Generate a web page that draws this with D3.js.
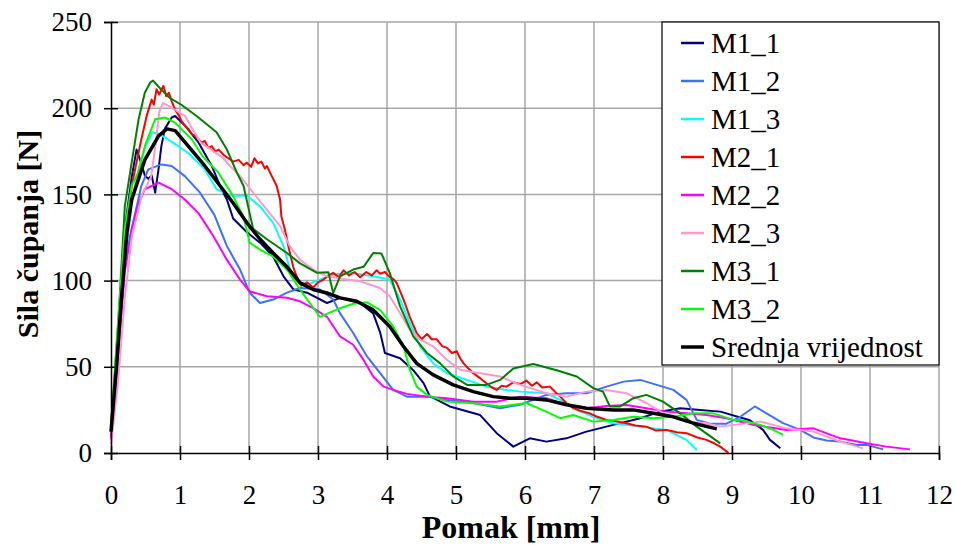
<!DOCTYPE html>
<html><head><meta charset="utf-8">
<script src="https://cdn.jsdelivr.net/npm/d3@7"></script>
<style>body{margin:0;background:#fff}svg{display:block}</style>
</head><body><svg id="c" width="955" height="545"></svg>
<script>
const xTicks=[0,1,2,3,4,5,6,7,8,9,10,11,12];
const yTicks=[0,50,100,150,200,250];
const seriesNames=["M1_1","M1_2","M1_3","M2_1","M2_2","M2_3","M3_1","M3_2","Srednja vrijednost"];
const seriesColors=["#000080","#3f6fff","#00ffff","#ff0000","#ff00ff","#ff99cc","#008000","#00ff00","#000000"];

const M1_1=[[0,12],[0.1,70],[0.2,130],[0.3,160],[0.37,176],[0.44,168],[0.49,161],[0.54,159],[0.59,161],[0.64,151],[0.69,165],[0.73,178],[0.78,188],[0.88,194.6],[0.93,195.5],[1.07,190],[1.27,180],[1.46,166.5],[1.6,153],[1.68,147],[1.77,136],[1.97,128],[2.16,122],[2.35,114],[2.5,102.5],[2.64,95],[2.84,93],[3.13,87],[3.32,90],[3.61,87],[3.8,81],[3.9,70],[3.97,58],[4.19,55],[4.38,48],[4.53,40.5],[4.62,33],[4.91,27],[5.35,22],[5.59,11.5],[5.83,3.7],[6.07,8.5],[6.31,6.6],[6.6,8.5],[6.89,12.4],[7.28,16.3],[7.67,20.2],[7.96,24],[8.25,26],[8.54,25],[8.83,24],[9.26,19],[9.45,13.4],[9.55,7.6],[9.7,2.7]];
const M1_2=[[0,10],[0.1,60],[0.2,112],[0.35,139],[0.44,155],[0.54,164.5],[0.73,167.4],[0.88,166.5],[1.07,160.6],[1.29,151],[1.5,138],[1.68,120],[1.87,106.4],[2.01,93],[2.16,87],[2.35,89],[2.55,93],[2.74,95.7],[3.03,94.8],[3.22,89],[3.32,81],[3.51,69.6],[3.71,56],[3.9,46.3],[4.09,36.6],[4.29,32.7],[4.58,32.7],[4.87,30.8],[5.25,29],[5.64,26],[5.93,28],[6.31,33.7],[6.6,34.7],[6.89,34.7],[7.18,38.5],[7.43,41.4],[7.67,42.4],[7.91,39.5],[8.15,36.6],[8.34,30.8],[8.49,19.2],[8.68,17],[8.92,17],[9.12,21],[9.33,27],[9.5,23],[9.74,17.3],[9.99,13.4],[10.18,9],[10.37,7.2],[10.57,6.6],[10.81,4.7],[10.95,4.7],[11.19,2.1]];
const M1_3=[[0,10],[0.1,55],[0.2,110],[0.3,145],[0.4,165],[0.5,178],[0.6,186],[0.7,185],[0.9,180],[1.12,174],[1.36,164.5],[1.53,153],[1.77,149],[1.97,149.4],[2.16,143],[2.35,133.5],[2.5,120],[2.57,110],[2.64,100.6],[2.84,97.7],[3.03,100.6],[3.22,103.5],[3.46,104.5],[3.8,102.5],[4.04,100.6],[4.19,89],[4.33,75.4],[4.48,61.8],[4.67,52],[4.87,46.3],[5.16,42.4],[5.44,38.5],[5.73,36.6],[5.93,35.6],[6.31,34.7],[6.6,29],[6.75,25],[6.99,21],[7.28,17.3],[7.67,15.3],[8.05,13.4],[8.34,7.6],[8.49,1.7]];
const M2_1=[[0,8],[0.1,60],[0.2,118],[0.3,155],[0.44,182],[0.52,196],[0.59,205],[0.62,202],[0.66,211],[0.7,208],[0.76,213],[0.8,207],[0.84,209],[0.88,204],[0.93,199],[0.98,196],[1.03,192],[1.07,190],[1.12,188],[1.17,185],[1.22,184],[1.27,182],[1.31,180],[1.36,181],[1.41,177],[1.46,178],[1.51,175],[1.56,176],[1.63,173],[1.7,171],[1.77,169],[1.85,170],[1.92,167],[1.97,168.4],[2.03,166],[2.08,171],[2.13,168],[2.18,169],[2.23,165],[2.26,166.5],[2.33,160.6],[2.4,155],[2.45,147],[2.47,137],[2.52,129.6],[2.57,120],[2.64,108],[2.69,102.5],[2.76,97],[2.84,99],[2.93,96],[3.0,99],[3.08,100.6],[3.15,103],[3.22,104.5],[3.3,102],[3.37,106],[3.45,103],[3.53,105],[3.61,102],[3.7,105],[3.78,103],[3.85,106],[3.9,104],[3.97,105],[4.04,102],[4.09,101],[4.14,98.7],[4.24,89],[4.33,79],[4.43,69.6],[4.5,66],[4.58,69],[4.65,66],[4.72,66],[4.8,62],[4.87,61],[4.94,58],[5.01,59],[5.06,55],[5.11,52],[5.18,49],[5.25,46.3],[5.35,43.4],[5.44,40.5],[5.52,38],[5.59,36.6],[5.66,39],[5.73,38.5],[5.83,41],[5.93,40],[6.02,42],[6.1,39],[6.17,41],[6.25,38],[6.36,38.5],[6.45,35],[6.51,32.7],[6.6,29],[6.7,26],[6.8,24.5],[6.94,23],[7.05,21],[7.18,19.2],[7.3,18.5],[7.47,17.3],[7.6,16],[7.76,15.3],[7.9,13],[8.05,13.4],[8.2,12],[8.34,11.5],[8.5,9],[8.63,7.6],[8.75,5.5],[8.83,3.7],[8.95,0]];
const M2_2=[[0,8],[0.1,55],[0.2,105],[0.3,130],[0.4,145],[0.49,153],[0.69,156.8],[0.88,153],[1.07,147],[1.27,139],[1.48,126],[1.68,112],[1.87,100.6],[2.01,93.8],[2.26,90.9],[2.55,90],[2.74,88],[2.93,84],[3.13,79],[3.32,67.6],[3.51,62.8],[3.66,54],[3.8,44.4],[3.95,38.5],[4.09,36.6],[4.29,34.3],[4.58,32.7],[4.87,31.8],[5.25,29.8],[5.59,29.8],[5.93,32.7],[6.31,31.8],[6.6,28],[6.89,26],[7.18,27.3],[7.47,27.9],[7.76,26],[8.05,24],[8.34,23],[8.63,22],[8.92,20.2],[9.31,16.3],[9.79,13.4],[10.18,14.3],[10.57,8.5],[10.95,5.6],[11.24,3.7],[11.58,2.1]];
const M2_3=[[0,5],[0.1,40],[0.2,90],[0.3,125],[0.45,150],[0.58,160],[0.65,180],[0.7,198],[0.75,203],[0.85,201],[1.07,195.5],[1.3,180],[1.63,171],[1.68,168.4],[1.87,160.6],[2.06,151],[2.26,141],[2.45,131.6],[2.59,120],[2.74,112],[2.93,106.4],[3.13,102.5],[3.42,100.6],[3.61,99.6],[3.9,95.7],[4.04,90.9],[4.19,81],[4.33,71.5],[4.48,65.7],[4.67,61.8],[4.87,54],[5.06,48.3],[5.35,46.3],[5.64,44.4],[5.93,39.5],[6.31,34.7],[6.6,32.7],[6.89,35.6],[7.18,36.6],[7.47,34.7],[7.76,29],[8.05,22],[8.34,18.2],[8.63,17.3],[8.83,15.3],[9.41,18.2],[9.79,14.3],[10.18,12.4],[10.57,6.6],[10.9,2.7]];
const M3_1=[[0,15],[0.03,31],[0.11,79],[0.2,143],[0.3,168.6],[0.4,193.6],[0.49,209],[0.57,215],[0.61,216],[0.7,212],[0.85,206],[1.02,202],[1.24,195.5],[1.53,186],[1.68,176],[1.82,163],[1.92,155],[2.06,130],[2.26,124],[2.55,116],[2.74,110],[2.98,104.6],[3.15,104.8],[3.22,92.8],[3.32,102.5],[3.51,106.4],[3.66,108],[3.8,116],[3.92,115.7],[4.04,104.5],[4.19,85],[4.38,67.6],[4.58,58],[4.77,52],[4.96,44.4],[5.16,39.5],[5.44,39.5],[5.64,42.4],[5.83,49],[6.12,51.6],[6.46,48],[6.75,44.4],[6.99,37.6],[7.13,35.6],[7.23,27],[7.38,27],[7.57,31.8],[7.76,33.7],[8.0,29.8],[8.25,23],[8.49,15.3],[8.83,5.6]];
const M3_2=[[0,15],[0.1,75],[0.2,130],[0.3,155],[0.4,163],[0.49,178],[0.64,193.6],[0.78,194.6],[0.93,191.6],[1.17,182],[1.33,172],[1.55,163],[1.77,149],[1.92,137],[2.01,122],[2.16,118],[2.35,114],[2.55,106.4],[2.74,94.8],[2.88,87],[3.03,79],[3.32,84],[3.51,86.6],[3.71,87.4],[3.9,83],[4.09,73.4],[4.24,61.8],[4.33,48.3],[4.43,38.5],[4.58,33.7],[4.87,29.8],[5.25,28.9],[5.64,27],[6.02,29],[6.31,24],[6.51,20.2],[6.7,22],[6.99,18.2],[7.28,19.2],[7.57,21],[7.86,20.2],[8.15,21],[8.44,23],[8.73,23],[9.02,19.2],[9.12,19.2],[9.41,16.3],[9.6,13.4],[9.74,10.5]];
const Srednja=[[0,12.4],[0.08,50],[0.15,89],[0.23,127.7],[0.3,147],[0.35,153],[0.49,170],[0.69,184],[0.81,188],[0.93,187],[1.12,178],[1.36,166.5],[1.58,155],[1.77,145],[1.97,133.5],[2.16,124],[2.35,116],[2.55,108],[2.74,98.7],[2.93,94.8],[3.13,92.8],[3.32,90],[3.56,88],[3.8,83],[4.04,73.4],[4.24,61.8],[4.43,52],[4.67,45.3],[4.96,39.5],[5.25,35.6],[5.54,32.7],[5.78,31.8],[6.02,31.8],[6.31,30.8],[6.6,28],[6.89,26],[7.28,25],[7.57,25],[7.86,23],[8.15,21],[8.44,17.3],[8.78,14]];
const seriesData=[M1_1,M1_2,M1_3,M2_1,M2_2,M2_3,M3_1,M3_2,Srednja];

const L=111,R=939,T=22,B=453;
const svg=d3.select("#c");
const x=d3.scaleLinear().domain([0,12]).range([L,R]);
const y=d3.scaleLinear().domain([0,250]).range([B,T]);
const font="'Liberation Serif','Times New Roman',serif";

svg.append("g").selectAll("line").data(yTicks.filter(d=>d>0)).join("line")
  .attr("x1",L).attr("x2",R).attr("y1",d=>y(d)).attr("y2",d=>y(d))
  .attr("stroke","#a6a6a6").attr("stroke-width",1.5);
svg.append("g").selectAll("line").data(xTicks.filter(d=>d>0)).join("line")
  .attr("x1",d=>x(d)).attr("x2",d=>x(d)).attr("y1",T).attr("y2",B)
  .attr("stroke","#a6a6a6").attr("stroke-width",1.5);

const line=d3.line().x(d=>x(d[0])).y(d=>y(d[1]));
seriesData.forEach((s,i)=>{
  svg.append("path").datum(s).attr("d",line).attr("fill","none")
    .attr("stroke",seriesColors[i]).attr("stroke-width",i===8?3.5:2)
    .attr("stroke-linejoin","round");
});

const ax=svg.append("g").attr("transform",`translate(0,${B})`)
  .call(d3.axisBottom(x).tickValues(xTicks).tickSize(7).tickPadding(25).tickFormat(d3.format("d")));
const ay=svg.append("g").attr("transform",`translate(${L},0)`)
  .call(d3.axisLeft(y).tickValues(yTicks).tickSize(7).tickPadding(12));
[ax,ay].forEach(g=>{
  g.select(".domain").attr("stroke","#000").attr("stroke-width",1.5);
  g.selectAll(".tick line").attr("stroke","#000").attr("stroke-width",1.5);
  g.selectAll(".tick text").attr("font-family",font).attr("font-size",27).attr("fill","#000");
});
ax.selectAll(".tick").append("line").attr("y1",0).attr("y2",-7).attr("stroke","#000").attr("stroke-width",1.5);
ay.selectAll(".tick").append("line").attr("x1",0).attr("x2",7).attr("stroke","#000").attr("stroke-width",1.5);

svg.append("text").attr("x",511).attr("y",538).attr("text-anchor","middle")
  .attr("font-family",font).attr("font-weight","bold").attr("font-size",32).text("Pomak [mm]");
svg.append("text").attr("transform",`translate(38,234) rotate(-90)`).attr("text-anchor","middle")
  .attr("font-family",font).attr("font-weight","bold").attr("font-size",30).text("Sila čupanja [N]");

const lg=svg.append("g");
lg.append("rect").attr("x",662).attr("y",22).attr("width",277).attr("height",343)
  .attr("fill","#fff").attr("stroke","#000").attr("stroke-width",1.2);
seriesNames.forEach((n,i)=>{
  const yy=43+i*38;
  lg.append("line").attr("x1",681).attr("x2",704).attr("y1",yy).attr("y2",yy)
    .attr("stroke",seriesColors[i]).attr("stroke-width",i===8?3.5:2.5);
  lg.append("text").attr("x",711).attr("y",yy).attr("dy","0.35em")
    .attr("font-family",font).attr("font-size",29).text(n);
});
</script></body></html>
